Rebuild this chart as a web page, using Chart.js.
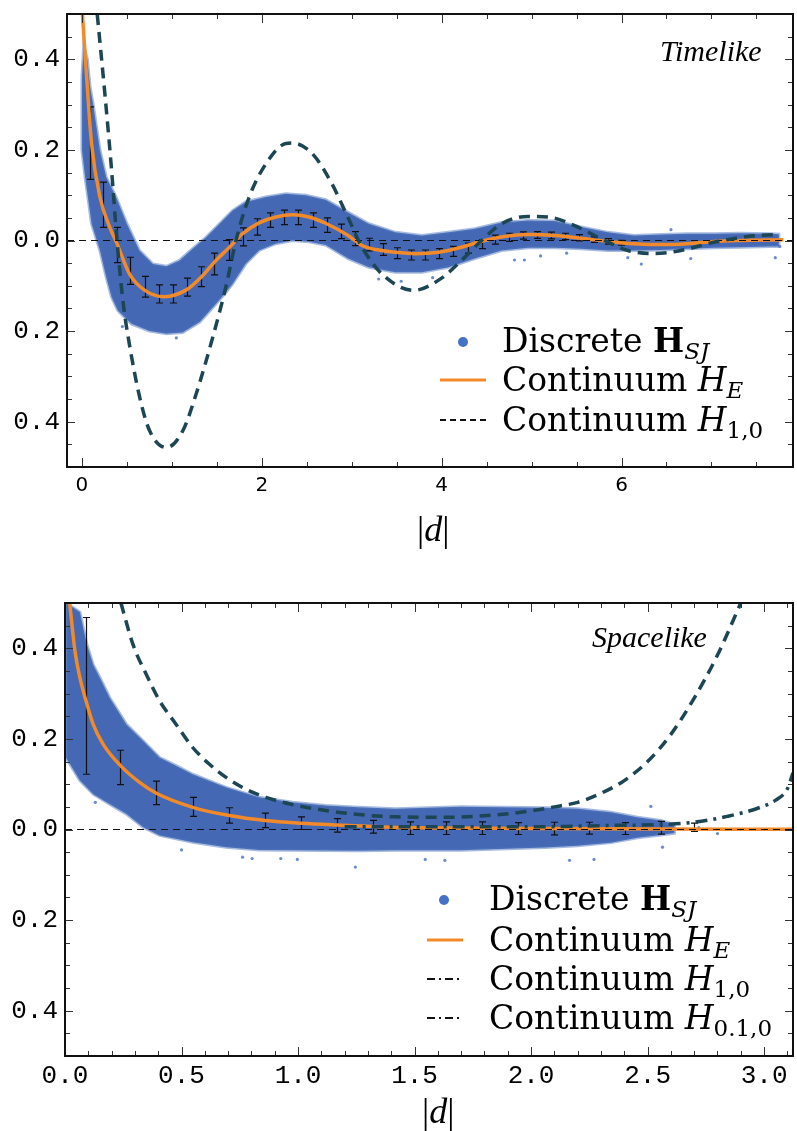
<!DOCTYPE html>
<html>
<head>
<meta charset="utf-8">
<script src="https://cdn.jsdelivr.net/npm/chart.js@4.4.0/dist/chart.umd.min.js"></script>
<style>
  html, body { margin: 0; padding: 0; background: #fff; }
  #wrap { position: relative; width: 797px; height: 1131px; }
  canvas { position: absolute; left: 0; }
  #timelike { top: 0; }
  #spacelike { top: 560px; }
</style>
</head>
<body>
<div id="wrap">
  <canvas id="timelike" width="797" height="560"></canvas>
  <canvas id="spacelike" width="797" height="571"></canvas>
</div>
<script>
const SERIF = '"Liberation Serif", "Times New Roman", serif';
const LEGEND_SERIF = '"DejaVu Serif", "Liberation Serif", serif';
const MONO = '"Liberation Mono", "Courier New", monospace';
const SANS = '"DejaVu Sans", sans-serif';
const BLUE = '#4468b3';
const ORANGE = '#f28a2a';
const TEAL = '#1c4654';

// ---------- timelike panel ----------
const tlYTicks = [-0.4, -0.2, 0, 0.2, 0.4];
const tlXTicks = [0, 2, 4, 6];

// envelope of the discrete cloud (upper / lower edge)
const tlBandTop = [[0.0,0.36],[0.02,0.43],[0.06,0.40],[0.09,0.34],[0.125,0.30],[0.2,0.2],[0.27,0.14],[0.38,0.096],[0.5,0.037],[0.64,-0.022],[0.79,-0.052],[0.94,-0.057],[1.085,-0.044],[1.23,-0.018],[1.38,0.007],[1.53,0.037],[1.675,0.066],[1.82,0.085],[2.045,0.096],[2.267,0.103],[2.49,0.1],[2.71,0.09],[2.96,0.062],[3.19,0.037],[3.485,0.018],[3.78,0.011],[4.075,0.018],[4.37,0.026],[4.666,0.04],[4.96,0.044],[5.26,0.043],[5.55,0.03],[5.85,0.018],[6.14,0.011],[6.44,0.013],[6.73,0.015],[7.03,0.015],[7.32,0.016],[7.66,0.015],[7.75,0.014]];
const tlBandBottom = [[0.0,0.2],[0.035,0.14],[0.107,0.037],[0.2,-0.022],[0.27,-0.081],[0.33,-0.125],[0.40,-0.155],[0.55,-0.184],[0.75,-0.2],[0.94,-0.206],[1.12,-0.203],[1.31,-0.18],[1.49,-0.14],[1.6,-0.115],[1.675,-0.096],[1.82,-0.052],[1.97,-0.022],[2.156,-0.007],[2.34,0.0],[2.525,-0.003],[2.71,-0.01],[2.96,-0.04],[3.19,-0.059],[3.485,-0.07],[3.78,-0.07],[4.075,-0.059],[4.37,-0.04],[4.666,-0.022],[4.96,-0.016],[5.26,-0.016],[5.55,-0.018],[5.85,-0.022],[6.14,-0.022],[6.44,-0.021],[6.73,-0.018],[7.03,-0.016],[7.32,-0.015],[7.66,-0.013],[7.75,-0.013]];
const tlStray = [[4.81,-0.043],[4.92,-0.043],[5.10,-0.034],[5.39,-0.028],[6.07,-0.038],[6.22,-0.052],[6.55,0.024],[6.77,-0.04],[7.71,-0.038],[7.76,-0.013],[3.3,-0.085],[3.55,-0.09],[3.9,-0.082],[0.45,-0.19],[1.05,-0.215]];

// binned means with error bars
const tlErrX = [0.089,0.236,0.39,0.54,0.705,0.853,1.01,1.163,1.32,1.473,1.63,1.787,1.945,2.093,2.25,2.406,2.57,2.72,2.88,3.04,3.19,3.344,3.5,3.66,3.817,3.976,4.13,4.29,4.444,4.59,4.75,4.906,5.064,5.22,5.37,5.53,5.69,5.85,5.99];
const tlErrY = [0.215,0.079,-0.01,-0.067,-0.102,-0.118,-0.118,-0.103,-0.08,-0.052,-0.021,0.008,0.03,0.045,0.051,0.051,0.045,0.034,0.02,0.004,-0.009,-0.02,-0.028,-0.032,-0.032,-0.029,-0.024,-0.017,-0.008,0.002,0.007,0.011,0.012,0.011,0.009,0.006,0.002,-0.002,-0.005];
const tlErrLen = [0.08,0.05,0.039,0.03,0.023,0.02,0.02,0.02,0.022,0.024,0.023,0.02,0.018,0.016,0.016,0.016,0.016,0.016,0.016,0.0155,0.014,0.013,0.012,0.011,0.011,0.011,0.011,0.011,0.01,0.01,0.009,0.008,0.0074,0.0074,0.007,0.007,0.006,0.006,0.0055];

// continuum curves
const tlHE = [[0.005,0.5],[0.052,0.361],[0.107,0.214],[0.2,0.096],[0.31,0.029],[0.39,-0.007],[0.53,-0.074],[0.70,-0.11],[0.92,-0.124],[1.16,-0.109],[1.325,-0.081],[1.49,-0.044],[1.64,-0.015],[1.786,0.015],[1.97,0.039],[2.156,0.052],[2.34,0.057],[2.525,0.052],[2.71,0.038],[2.96,0.011],[3.115,-0.011],[3.3,-0.021],[3.485,-0.026],[3.706,-0.029],[3.965,-0.026],[4.22,-0.015],[4.444,-0.0015],[4.70,0.009],[4.96,0.013],[5.26,0.011],[5.55,0.005],[5.85,-0.002],[6.14,-0.007],[6.44,-0.009],[6.73,-0.007],[7.03,-0.002],[7.32,0.0],[7.80,0.0015]];
const tlH10 = [[0.17,0.5],[0.255,0.324],[0.33,0.155],[0.39,0.0],[0.46,-0.14],[0.52,-0.22],[0.642,-0.346],[0.753,-0.42],[0.938,-0.457],[1.122,-0.42],[1.27,-0.339],[1.454,-0.214],[1.6,-0.103],[1.713,0.0],[1.86,0.096],[2.045,0.169],[2.267,0.214],[2.34,0.215],[2.56,0.192],[2.78,0.125],[2.96,0.05],[3.115,-0.015],[3.337,-0.074],[3.69,-0.11],[4.0,-0.083],[4.22,-0.044],[4.444,0.0],[4.666,0.037],[4.96,0.053],[5.18,0.052],[5.478,0.033],[5.77,0.004],[6.07,-0.022],[6.36,-0.029],[6.66,-0.022],[7.03,-0.004],[7.40,0.009],[7.73,0.013]];

// ---------- spacelike panel ----------
const slYTicks = [-0.4, -0.2, 0, 0.2, 0.4];
const slXTicks = [0, 0.5, 1.0, 1.5, 2.0, 2.5, 3.0];

const slBandTop = [[0.005,0.5],[0.064,0.48],[0.093,0.41],[0.121,0.364],[0.15,0.335],[0.192,0.291],[0.264,0.232],[0.335,0.196],[0.406,0.159],[0.477,0.141],[0.548,0.122],[0.691,0.093],[0.833,0.071],[0.976,0.06],[1.118,0.053],[1.26,0.049],[1.417,0.046],[1.7,0.05],[2.06,0.048],[2.2,0.046],[2.343,0.038],[2.457,0.027],[2.557,0.02],[2.615,0.011]];
const slBandBottom = [[0.005,0.158],[0.064,0.108],[0.121,0.078],[0.192,0.056],[0.264,0.034],[0.335,0.005],[0.406,-0.013],[0.548,-0.028],[0.691,-0.039],[0.833,-0.045],[0.976,-0.046],[1.26,-0.047],[1.417,-0.046],[1.7,-0.046],[2.06,-0.04],[2.2,-0.036],[2.343,-0.029],[2.457,-0.018],[2.557,-0.012],[2.615,-0.008]];
const slStray = [[1.246,-0.083],[0.762,-0.061],[0.803,-0.064],[0.926,-0.064],[0.997,-0.066],[2.165,-0.068],[2.27,-0.066],[2.514,0.051],[2.80,-0.009],[2.72,0.004],[2.564,-0.039],[1.546,-0.066],[1.63,-0.068],[0.5,-0.045],[0.13,0.06]];

const slErrX = [0.09,0.238,0.392,0.548,0.705,0.859,1.014,1.168,1.32,1.479,1.634,1.788,1.942,2.098,2.247,2.405,2.557,2.7];
const slErrY = [0.295,0.137,0.081,0.05,0.031,0.02,0.014,0.009,0.006,0.003,0.003,0.003,0.002,0.002,0.003,0.002,0.004,0.005];
const slErrLen = [0.173,0.038,0.026,0.021,0.017,0.016,0.014,0.015,0.014,0.014,0.014,0.014,0.013,0.014,0.013,0.013,0.014,0.009];

const slHE = [[0.02,0.5],[0.043,0.393],[0.064,0.335],[0.09,0.284],[0.121,0.232],[0.164,0.188],[0.238,0.141],[0.32,0.104],[0.392,0.08],[0.548,0.049],[0.705,0.031],[0.859,0.02],[1.014,0.014],[1.168,0.01],[1.40,0.005],[1.8,0.003],[2.3,0.0015],[3.124,0.0005]];
const slH10 = [[0.24,0.5],[0.292,0.408],[0.349,0.342],[0.406,0.284],[0.477,0.232],[0.548,0.181],[0.62,0.144],[0.691,0.115],[0.776,0.089],[0.862,0.071],[0.976,0.055],[1.118,0.042],[1.26,0.033],[1.417,0.028],[1.63,0.027],[1.845,0.032],[1.987,0.04],[2.1,0.05],[2.2,0.06],[2.3,0.08],[2.4,0.108],[2.5,0.15],[2.6,0.21],[2.7,0.29],[2.8,0.385],[2.9,0.5]];
const slH010 = [[1.2,0.006],[1.6,0.006],[2.0,0.006],[2.343,0.009],[2.557,0.011],[2.7,0.016],[2.842,0.029],[2.984,0.049],[3.05,0.065],[3.10,0.09],[3.124,0.125]];

// ---------- helpers ----------
const xy = pts => pts.map(([x, y]) => ({x, y}));
const outline = (top, bottom) => xy(top.concat(bottom.slice().reverse(), [top[0]]));
function steps(from, to, step) {
  const out = [];
  for (let v = from; v <= to + 1e-9; v += step) out.push(+v.toFixed(4));
  return out;
}

function drawRich(ctx, x, y, parts) {
  let cx = x;
  for (const p of parts) {
    ctx.font = p.font;
    ctx.fillText(p.text, cx, y + (p.dy || 0));
    cx += ctx.measureText(p.text).width;
  }
}

// frame with inward ticks on all four sides
const frame = {
  id: 'frame',
  afterDraw(chart, args, o) {
    const {ctx, chartArea: a, scales: {x, y}} = chart;
    ctx.save();
    ctx.strokeStyle = '#333';
    ctx.lineWidth = 1;
    ctx.beginPath();
    const xt = (list, len) => list.forEach(v => {
      const p = Math.round(x.getPixelForValue(v)) + 0.5;
      if (p < a.left || p > a.right) return;
      ctx.moveTo(p, a.bottom); ctx.lineTo(p, a.bottom - len);
      ctx.moveTo(p, a.top); ctx.lineTo(p, a.top + len);
    });
    const yt = (list, len) => list.forEach(v => {
      const p = Math.round(y.getPixelForValue(v)) + 0.5;
      if (p < a.top || p > a.bottom) return;
      ctx.moveTo(a.left, p); ctx.lineTo(a.left + len, p);
      ctx.moveTo(a.right, p); ctx.lineTo(a.right - len, p);
    });
    xt(o.xMinor, 5); xt(o.xMajor, 9);
    yt(o.yMinor, 5); yt(o.yMajor, 8);
    ctx.stroke();
    ctx.strokeStyle = '#111';
    ctx.lineWidth = 2;
    ctx.strokeRect(a.left, a.top, a.right - a.left, a.bottom - a.top);
    ctx.restore();
  }
};

const errorBars = {
  id: 'errorBars',
  afterDatasetDraw(chart, args) {
    const ds = chart.data.datasets[args.index];
    if (!ds.errorBars) return;
    const {xs, ys, es} = ds.errorBars;
    const {ctx, scales: {x, y}} = chart;
    ctx.save();
    ctx.strokeStyle = '#111';
    ctx.lineWidth = 1.2;
    ctx.beginPath();
    xs.forEach((xv, i) => {
      const px = Math.round(x.getPixelForValue(xv)) + 0.5;
      const top = y.getPixelForValue(ys[i] + es[i]);
      const bot = y.getPixelForValue(ys[i] - es[i]);
      ctx.moveTo(px, top); ctx.lineTo(px, bot);
      ctx.moveTo(px - 3.5, top); ctx.lineTo(px + 3.5, top);
      ctx.moveTo(px - 3.5, bot); ctx.lineTo(px + 3.5, bot);
    });
    ctx.stroke();
    ctx.restore();
  }
};

// panel label, legend and |d| title
const decor = {
  id: 'decor',
  afterDraw(chart, args, o) {
    const {ctx} = chart;
    ctx.save();
    ctx.fillStyle = '#000';
    ctx.textBaseline = 'alphabetic';
    ctx.textAlign = 'left';
    ctx.font = 'italic 30px ' + SERIF;
    ctx.fillText(o.label.text, o.label.x, o.label.y);
    drawRich(ctx, o.title.x, o.title.y, [
      {text: '|', font: '36px ' + SERIF},
      {text: 'd', font: 'italic 36px ' + SERIF},
      {text: '|', font: '36px ' + SERIF}
    ]);
    const L = o.legend;
    for (const row of L.rows) {
      const my = row.y - 11;
      ctx.save();
      if (row.mark === 'dot') {
        ctx.fillStyle = '#4472c4';
        ctx.beginPath();
        ctx.arc(L.dotX, row.y - 10, 5, 0, Math.PI * 2);
        ctx.fill();
      } else {
        ctx.strokeStyle = row.color;
        ctx.lineWidth = row.width;
        ctx.setLineDash(row.dash || []);
        ctx.beginPath();
        ctx.moveTo(L.lineX1, my);
        ctx.lineTo(L.lineX2, my);
        ctx.stroke();
      }
      ctx.restore();
      drawRich(ctx, L.textX, row.y, row.parts);
    }
    ctx.restore();
  }
};

Chart.register(frame, errorBars, decor);

const F = size => size + 'px ' + LEGEND_SERIF;
const discrete = [
  {text: 'Discrete ', font: F(33)},
  {text: 'H', font: 'bold ' + F(33)},
  {text: 'SJ', font: 'italic ' + F(23), dy: 7}
];
const continuum = (sub, italicSub) => [
  {text: 'Continuum ', font: F(33)},
  {text: 'H', font: 'italic ' + F(33)},
  {text: sub, font: (italicSub ? 'italic ' : '') + F(23), dy: 7}
];

function line(data, color, width, dash, order) {
  return {
    data: xy(data), borderColor: color, borderWidth: width, borderDash: dash,
    pointRadius: 0, fill: false, cubicInterpolationMode: 'monotone', order, clip: 0
  };
}

function panel(id, cfg) {
  const yTickVals = cfg.yTicks;
  new Chart(document.getElementById(id), {
    type: 'line',
    data: {
      datasets: [
        {
          data: outline(cfg.bandTop, cfg.bandBottom),
          backgroundColor: BLUE, borderColor: 'rgba(80,118,192,0.5)', borderWidth: 3,
          fill: 'shape', pointRadius: 0, tension: 0, order: 10, clip: 0,
          errorBars: {xs: cfg.errX, ys: cfg.errY, es: cfg.errLen}
        },
        {
          data: xy(cfg.stray), showLine: false, pointRadius: 1.6,
          pointBackgroundColor: 'rgba(80,120,195,0.85)', pointBorderWidth: 0, order: 9, clip: 0
        },
        line(cfg.he, ORANGE, 3.5, [], 6),
        line([[cfg.xMin, 0], [cfg.xMax, 0]], '#111', 1, [7, 5], 5),
        ...cfg.extra
      ]
    },
    options: {
      responsive: false,
      devicePixelRatio: 1,
      animation: false,
      layout: {padding: {top: cfg.padTop, right: 1, left: 0, bottom: 0}},
      plugins: {
        legend: {display: false},
        tooltip: {enabled: false},
        frame: cfg.frame,
        decor: cfg.decor
      },
      scales: {
        x: {
          type: 'linear', min: cfg.xMin, max: cfg.xMax,
          afterFit: s => { s.height = cfg.xHeight; s.paddingLeft = 0; s.paddingRight = 0; },
          afterBuildTicks: s => { s.ticks = cfg.xTicks.map(v => ({value: v})); },
          grid: {display: false, drawTicks: false},
          border: {display: false},
          ticks: {
            padding: cfg.xPad, maxRotation: 0, autoSkip: false, color: '#000',
            font: cfg.xFont,
            callback: cfg.xLabel
          }
        },
        y: {
          type: 'linear', min: -0.5, max: 0.5,
          afterFit: s => { s.width = cfg.yWidth; s.paddingTop = 0; s.paddingBottom = 0; },
          afterBuildTicks: s => { s.ticks = yTickVals.map(v => ({value: v})); },
          grid: {display: false, drawTicks: false},
          border: {display: false},
          ticks: {
            padding: 7, color: '#000',
            font: {family: MONO, size: 26},
            callback: v => Math.abs(v).toFixed(1)
          }
        }
      }
    }
  });
}

panel('timelike', {
  bandTop: tlBandTop, bandBottom: tlBandBottom, stray: tlStray,
  errX: tlErrX, errY: tlErrY, errLen: tlErrLen, he: tlHE,
  extra: [line(tlH10, TEAL, 3.5, [11, 7], 4)],
  xMin: -0.166, xMax: 7.907, xTicks: tlXTicks, yTicks: tlYTicks,
  xLabel: v => String(v), xFont: {family: SANS, size: 20}, xPad: 7,
  padTop: 14, xHeight: 93, yWidth: 67,
  frame: {xMajor: tlXTicks, xMinor: steps(0, 7.5, 0.5), yMajor: tlYTicks, yMinor: steps(-0.45, 0.45, 0.05)},
  decor: {
    label: {text: 'Timelike', x: 660, y: 61},
    title: {x: 417, y: 541},
    legend: {
      dotX: 463, lineX1: 440, lineX2: 486, textX: 502,
      rows: [
        {mark: 'dot', y: 352, parts: discrete},
        {mark: 'line', y: 391, color: ORANGE, width: 3, parts: continuum('E', true)},
        {mark: 'line', y: 431, color: '#111', width: 2, dash: [6, 4], parts: continuum('1,0', false)}
      ]
    }
  }
});

panel('spacelike', {
  bandTop: slBandTop, bandBottom: slBandBottom, stray: slStray,
  errX: slErrX, errY: slErrY, errLen: slErrLen, he: slHE,
  extra: [line(slH10, TEAL, 3.5, [11, 7], 4), line(slH010, TEAL, 3.5, [12, 6, 3, 6], 3)],
  xMin: 0, xMax: 3.124, xTicks: slXTicks, yTicks: slYTicks,
  xLabel: v => v.toFixed(1), xFont: {family: MONO, size: 26}, xPad: 5,
  padTop: 43, xHeight: 75, yWidth: 65,
  frame: {xMajor: slXTicks, xMinor: steps(0, 3.1, 0.1), yMajor: slYTicks, yMinor: steps(-0.45, 0.45, 0.05)},
  decor: {
    label: {text: 'Spacelike', x: 592, y: 87},
    title: {x: 422, y: 563},
    legend: {
      dotX: 444, lineX1: 427, lineX2: 463, textX: 489,
      rows: [
        {mark: 'dot', y: 350, parts: discrete},
        {mark: 'line', y: 391, color: ORANGE, width: 3, parts: continuum('E', true)},
        {mark: 'line', y: 430, color: '#111', width: 2, dash: [8, 4, 2, 4], parts: continuum('1,0', false)},
        {mark: 'line', y: 469, color: '#111', width: 2, dash: [8, 4, 2, 4], parts: continuum('0.1,0', false)}
      ]
    }
  }
});
</script>
</body>
</html>
